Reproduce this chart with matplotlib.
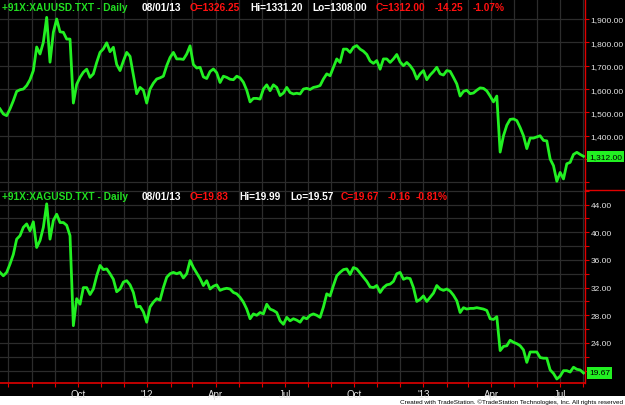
import matplotlib
matplotlib.use("Agg")
import matplotlib.pyplot as plt
import matplotlib.dates as mdates
from matplotlib.ticker import FixedLocator, MultipleLocator, FuncFormatter
from matplotlib.lines import Line2D
from matplotlib.patches import Rectangle
import pandas as pd

# gold (XAUUSD) closes, evenly spaced in time
gold = [1515, 1493, 1486, 1515, 1550, 1590, 1597, 1600, 1615, 1640,
        1679, 1780, 1750, 1800, 1907, 1715, 1843, 1900, 1845, 1843,
        1814, 1814, 1540, 1620, 1650, 1672, 1685, 1650, 1665, 1714,
        1757, 1772, 1798, 1760, 1779, 1705, 1679, 1720, 1757, 1740,
        1660, 1580, 1607, 1595, 1540, 1600, 1625, 1643, 1648, 1655,
        1700, 1735, 1757, 1729, 1729, 1727, 1750, 1785, 1705, 1690,
        1693, 1652, 1645, 1675, 1686, 1670, 1628, 1655, 1650, 1642,
        1640, 1655, 1648, 1629, 1595, 1545, 1560, 1560, 1557, 1600,
        1618, 1593, 1618, 1607, 1572, 1583, 1607, 1585, 1579, 1582,
        1579, 1600, 1603, 1598, 1607, 1610, 1615, 1643, 1665, 1657,
        1693, 1729, 1714, 1771, 1771, 1757, 1779, 1786, 1771, 1762,
        1748, 1720, 1710, 1722, 1685, 1729, 1729, 1714, 1729, 1748,
        1716, 1700, 1714, 1700, 1680, 1643, 1665, 1679, 1640, 1660,
        1675, 1693, 1665, 1660, 1679, 1676, 1650, 1622, 1570, 1590,
        1595, 1580, 1583, 1595, 1605, 1603, 1592, 1570, 1545, 1570,
        1330, 1400, 1445, 1470, 1472, 1465, 1435, 1400, 1345, 1390,
        1390, 1395, 1400, 1380, 1378, 1300, 1272, 1205, 1243, 1215,
        1280, 1286, 1320, 1329, 1320, 1312]

# silver (XAGUSD) closes
silver = [34.2, 33.7, 34.2, 35.4, 36.8, 39.0, 39.5, 40.7, 41.2, 40.2,
          41.5, 37.8, 38.8, 40.7, 44.1, 39.0, 41.7, 42.6, 41.4, 41.4,
          41.0, 39.5, 26.5, 30.4, 29.6, 32.0, 32.0, 31.0, 31.8, 33.7,
          35.2, 34.6, 34.7, 34.0, 33.2, 31.4, 31.8, 32.8, 33.0, 32.4,
          31.3, 29.2, 29.3, 28.5, 27.0, 29.2, 29.9, 30.4, 30.2, 32.0,
          33.5, 34.0, 34.2, 34.0, 34.2, 33.4, 34.0, 35.9, 34.9, 34.1,
          33.3, 32.3, 33.0, 31.8, 32.2, 32.4, 31.6, 31.8, 31.9, 31.8,
          31.3, 31.1, 30.6, 29.9, 28.9, 27.5, 28.2, 28.0, 28.4, 28.2,
          29.6, 28.9, 28.7, 28.4, 27.2, 26.7, 27.7, 27.2, 27.5, 27.3,
          27.0, 27.7, 27.5, 28.0, 28.2, 28.0, 27.7, 29.2, 31.1, 30.8,
          32.3, 33.7, 34.2, 34.6, 34.7, 33.9, 34.9, 34.7, 34.1, 33.5,
          32.9, 32.1, 32.0, 32.3, 31.3, 32.0, 32.4, 32.5, 32.9, 34.0,
          34.2, 33.2, 33.4, 33.3, 32.0, 30.0, 30.3, 30.8, 30.0, 30.6,
          31.2, 32.3, 31.8, 31.6, 31.8, 31.5, 30.9, 30.1, 28.4, 29.1,
          28.9, 29.0, 29.0, 29.1, 29.0, 28.9, 28.7, 27.5, 27.4, 27.8,
          22.9, 23.5, 23.6, 24.4, 24.1, 23.9, 23.6, 23.0, 21.2, 22.7,
          22.7, 22.7, 21.9, 21.8, 21.8, 20.1, 19.6, 18.8, 19.2, 20.0,
          20.0, 19.8, 20.5, 20.2, 20.1, 19.67]

startDate = '2011-06-20'
endDate = '2013-08-01'
dates = pd.date_range(startDate, endDate, periods=len(gold))
quarterStarts = pd.date_range('2011-10-01', '2013-07-01', freq='QS')

goldTicks = list(range(1200, 2000, 100))
goldLabelled = list(range(1400, 2000, 100))
silverTicks = list(range(20, 48, 4))

goldHeader = [("+91X:XAUUSD.TXT - Daily", 'g'), ("08/01/13", 'w'), ("O=1326.25", 'r'),
              ("Hi=1331.20", 'w'), ("Lo=1308.00", 'w'), ("C=1312.00", 'r'),
              ("-14.25", 'r'), ("-1.07%", 'r')]
silverHeader = [("+91X:XAGUSD.TXT - Daily", 'g'), ("08/01/13", 'w'), ("O=19.83", 'r'),
                ("Hi=19.99", 'w'), ("Lo=19.57", 'w'), ("C=19.67", 'r'),
                ("-0.16", 'r'), ("-0.81%", 'r')]
goldLast = "1,312.00"
silverLast = "19.67"
footer = "Created with TradeStation. \u00a9TradeStation Technologies, Inc. All rights reserved"

plt.rcParams['font.family'] = ['Liberation Sans', 'DejaVu Sans']

W, H = 625, 406
lineCol = '#22f022'
gridCol = '#2c2c2c'
red = '#e00000'
labCol = '#e4e4e4'
hdrCols = {'g': '#22dd22', 'w': '#ffffff', 'r': '#ff1010'}

fig = plt.figure(figsize=(W / 100, H / 100), dpi=100)
fig.patch.set_facecolor('black')
fig.add_artist(Rectangle((0, 0), 1, 9 / H, transform=fig.transFigure,
                         facecolor='white', edgecolor='none', zorder=0))

axTop = fig.add_axes([0, (H - 191) / H, 585 / W, 191 / H])
axBot = fig.add_axes([0, 22 / H, 585 / W, 193 / H])

xLeft = pd.Timestamp(startDate)
xRight = pd.Timestamp('2013-08-03')

for ax in (axTop, axBot):
    ax.set_facecolor('black')
    for s in ('left', 'top', 'bottom'):
        ax.spines[s].set_visible(False)
    ax.spines['right'].set_color(red)
    ax.spines['right'].set_linewidth(1.0)
    ax.set_xlim(xLeft, xRight)
    ax.yaxis.tick_right()
    ax.tick_params(axis='y', which='both', colors=red, labelcolor=labCol,
                   length=3, width=0.8, labelsize=6, pad=1)
    ax.xaxis.set_major_locator(FixedLocator(mdates.date2num(quarterStarts)))
    ax.xaxis.set_minor_locator(mdates.MonthLocator())
    ax.grid(True, axis='x', which='both', color=gridCol, lw=0.9)
    ax.set_axisbelow(True)

# gold panel
axTop.plot(dates, gold, color=lineCol, lw=2.0, zorder=3)
axTop.set_ylim(1167.7, 1985.6)
axTop.yaxis.set_major_locator(FixedLocator(goldTicks))
axTop.yaxis.set_major_formatter(FuncFormatter(
    lambda v, p: f"{v:,.2f}" if round(v) in goldLabelled else ""))
axTop.grid(True, axis='y', which='major', color=gridCol, lw=0.9)
axTop.tick_params(axis='x', which='both', length=0, labelbottom=False)

# silver panel
axBot.plot(dates, silver, color=lineCol, lw=2.0, zorder=3)
axBot.set_ylim(18.22, 46.1)
axBot.yaxis.set_major_locator(FixedLocator(silverTicks))
axBot.yaxis.set_minor_locator(MultipleLocator(2))
axBot.yaxis.set_major_formatter(FuncFormatter(lambda v, p: f"{v:.2f}"))
axBot.grid(True, axis='y', which='both', color=gridCol, lw=0.9)
axBot.spines['bottom'].set_visible(True)
axBot.spines['bottom'].set_color(red)
axBot.spines['bottom'].set_linewidth(1.2)
axBot.xaxis.set_major_formatter(FuncFormatter(
    lambda v, p: ("'" + mdates.num2date(v).strftime('%y')) if mdates.num2date(v).month == 1
    else mdates.num2date(v).strftime('%b')))
axBot.tick_params(axis='x', which='both', colors=red, labelcolor=labCol,
                  length=3, width=0.8, labelsize=7, pad=1.5)

# red separator in the price-scale column
fig.add_artist(Line2D([585 / W, 1], [(H - 191) / H] * 2, color=red, lw=1.0,
                      transform=fig.transFigure))

# last-price tags
for ax, val, txt in ((axTop, gold[-1], goldLast), (axBot, silver[-1], silverLast)):
    ax.annotate(txt, xy=(1.0, val), xycoords=('axes fraction', 'data'),
                xytext=(3, 0), textcoords='offset points', va='center', ha='left',
                fontsize=6, color='black', zorder=10, annotation_clip=False,
                bbox=dict(boxstyle='square,pad=0.25', facecolor='#22f022',
                          edgecolor='none'))

# header lines
hdrX = [2, 142, 190, 250, 312, 376, 435, 473]
hdrXs = [2, 142, 190, 239, 290, 341, 388, 416]
for hdr, xs, yPix in ((goldHeader, hdrX, 8), (silverHeader, hdrXs, 197.5)):
    for (txt, c), xp in zip(hdr, xs):
        fig.text(xp / W, 1 - yPix / H, txt, color=hdrCols[c], fontsize=7.3,
                 fontweight='bold', va='center', ha='left')

fig.text(623 / W, 1 - 402 / H, footer, color='black', fontsize=4.6,
         ha='right', va='center')

fig.savefig('out.png', dpi=100, facecolor=fig.get_facecolor())
